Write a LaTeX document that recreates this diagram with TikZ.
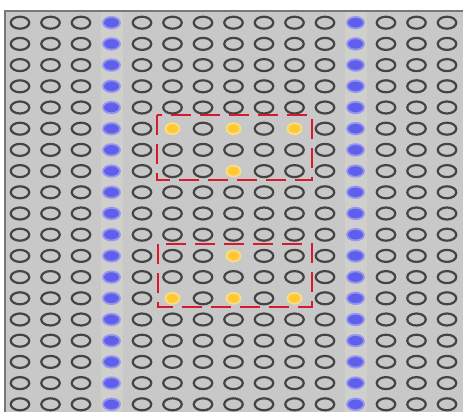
\documentclass[tikz,border=0pt]{standalone}
\usetikzlibrary{shapes.geometric}
\definecolor{bg}{RGB}{200,200,200}
\definecolor{stripe}{RGB}{207,207,203}
\definecolor{bordergrey}{RGB}{120,120,120}
\definecolor{ring}{RGB}{68,68,68}
\definecolor{bluefill}{RGB}{95,95,235}
\definecolor{blueglow}{RGB}{150,150,238}
\definecolor{yelfill}{RGB}{255,200,55}
\definecolor{yelglow}{RGB}{250,222,130}
\definecolor{boxred}{RGB}{215,25,45}
\expandafter\def\csname yl-5-5\endcsname{}
\expandafter\def\csname yl-7-5\endcsname{}
\expandafter\def\csname yl-9-5\endcsname{}
\expandafter\def\csname yl-7-7\endcsname{}
\expandafter\def\csname yl-7-11\endcsname{}
\expandafter\def\csname yl-5-13\endcsname{}
\expandafter\def\csname yl-7-13\endcsname{}
\expandafter\def\csname yl-9-13\endcsname{}
\begin{document}
\begin{tikzpicture}[x=1pt,y=-1pt,
  hole/.style={ellipse,draw=ring,line width=2.2pt,minimum width=18.5pt,minimum height=12pt,inner sep=0pt},
  bluehole/.style={ellipse,fill=bluefill,draw=blueglow,line width=1.8pt,minimum width=17pt,minimum height=11.5pt,inner sep=0pt},
  yelhole/.style={ellipse,fill=yelfill,draw=yelglow,line width=1.8pt,minimum width=14pt,minimum height=11pt,inner sep=0pt},
  regionbox/.style={draw=boxred,line width=2.2pt,dash pattern=on 20pt off 9pt}]
\useasboundingbox (0,0) rectangle (463,412);
\fill[white] (0,0) rectangle (463,412);
\fill[bg] (5,11) rectangle (463,412);
\fill[stripe] (101,12) rectangle (123,412);
\fill[stripe] (345,12) rectangle (367,412);
\draw[bordergrey,line width=1.2pt] (5,412) -- (5,11) -- (463,11);
\foreach \i in {0,...,14}{
  \foreach \j in {0,...,18}{
    \ifcsname yl-\i-\j\endcsname
      \node[yelhole] (c-\i-\j) at ({20+30.5*\i},{22.7+21.2*\j}) {};
    \else
      \ifnum\i=3
        \node[bluehole] (c-\i-\j) at ({20+30.5*\i},{22.7+21.2*\j}) {};
      \else\ifnum\i=11
        \node[bluehole] (c-\i-\j) at ({20+30.5*\i},{22.7+21.2*\j}) {};
      \else
        \node[hole] (c-\i-\j) at ({20+30.5*\i},{22.7+21.2*\j}) {};
      \fi\fi
    \fi
  }
}
\draw[regionbox] (157,115) rectangle (312,180);
\draw[regionbox] (158,244) rectangle (312,307);
\end{tikzpicture}
\end{document}
